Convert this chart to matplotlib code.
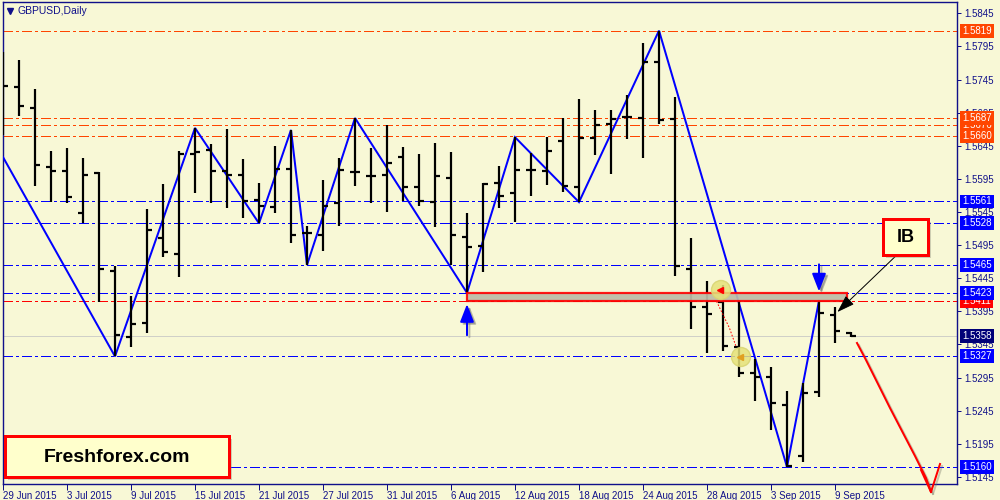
import matplotlib
matplotlib.use("Agg")
import matplotlib.pyplot as plt
from matplotlib.transforms import Affine2D, blended_transform_factory
from matplotlib.patches import Rectangle, Circle
import numpy as np

plt.rcParams['lines.scale_dashes'] = False
plt.rcParams['font.family'] = ['Liberation Sans', 'DejaVu Sans']

# ---------------- data ----------------
opens = [1.5760, 1.5734, 1.5702, 1.5613, 1.5607, 1.5544, 1.5604, 1.5456, 1.5356, 1.5377,
         1.5506, 1.5482, 1.5633, 1.5639, 1.5607, 1.5601, 1.5563, 1.5553, 1.5610, 1.5513,
         1.5510, 1.5559, 1.5605, 1.5599, 1.5601, 1.5628, 1.5583, 1.5560, 1.5596, 1.5507,
         1.5494, 1.5589, 1.5574, 1.5608, 1.5607, 1.5652, 1.5583, 1.5657, 1.5678, 1.5689,
         1.5687, 1.5772, 1.5686, 1.5459, 1.5402, 1.5409, 1.5341, 1.5302, 1.5296, 1.5254,
         1.5177, 1.5273, 1.5390, 1.5362]
highs = [1.5787, 1.5775, 1.5731, 1.5637, 1.5642, 1.5627, 1.5605, 1.5464, 1.5418, 1.5550,
         1.5587, 1.5637, 1.5672, 1.5648, 1.5670, 1.5625, 1.5589, 1.5645, 1.5669, 1.5524,
         1.5593, 1.5627, 1.5687, 1.5642, 1.5676, 1.5643, 1.5633, 1.5649, 1.5636, 1.5544,
         1.5589, 1.5614, 1.5658, 1.5634, 1.5658, 1.5687, 1.5716, 1.5699, 1.5699, 1.5722,
         1.5800, 1.5819, 1.5719, 1.5506, 1.5441, 1.5435, 1.5412, 1.5323, 1.5311, 1.5275,
         1.5287, 1.5411, 1.5402, 1.5364]
lows = [1.5661, 1.5690, 1.5584, 1.5560, 1.5559, 1.5528, 1.5409, 1.5327, 1.5341, 1.5362,
        1.5477, 1.5447, 1.5574, 1.5559, 1.5551, 1.5536, 1.5528, 1.5544, 1.5498, 1.5465,
        1.5486, 1.5524, 1.5584, 1.5559, 1.5545, 1.5562, 1.5554, 1.5522, 1.5465, 1.5423,
        1.5454, 1.5551, 1.5530, 1.5569, 1.5586, 1.5575, 1.5560, 1.5631, 1.5602, 1.5655,
        1.5627, 1.5678, 1.5448, 1.5368, 1.5332, 1.5335, 1.5296, 1.5260, 1.5216, 1.5160,
        1.5168, 1.5266, 1.5347, 1.5356]
closes = [1.5735, 1.5705, 1.5616, 1.5607, 1.5568, 1.5601, 1.5459, 1.5359, 1.5376, 1.5518,
          1.5485, 1.5633, 1.5636, 1.5607, 1.5601, 1.5562, 1.5554, 1.5610, 1.5510, 1.5513,
          1.5554, 1.5608, 1.5605, 1.5599, 1.5619, 1.5583, 1.5562, 1.5599, 1.5510, 1.5492,
          1.5587, 1.5569, 1.5608, 1.5608, 1.5637, 1.5584, 1.5657, 1.5676, 1.5686, 1.5689,
          1.5772, 1.5684, 1.5464, 1.5402, 1.5391, 1.5343, 1.5302, 1.5296, 1.5257, 1.5162,
          1.5272, 1.5393, 1.5365, 1.5358]

zigzag_idx = [0, 7, 12, 16, 18, 19, 22, 29, 32, 36, 41, 49, 51]
zigzag_px = [1.5628, 1.5327, 1.5672, 1.5528, 1.5669, 1.5465, 1.5687, 1.5423,
             1.5658, 1.5560, 1.5819, 1.5160, 1.5411]

orange_levels = [1.5819, 1.5687, 1.5676, 1.5660]
blue_levels = [1.5561, 1.5528, 1.5465, 1.5423, 1.5327, 1.5160]
red_levels = [1.5411]
bid_price = 1.5358

xtick_idx = [0, 4, 8, 12, 16, 20, 24, 28, 32, 36, 40, 44, 48, 52]
xtick_labels = ["29 Jun 2015", "3 Jul 2015", "9 Jul 2015", "15 Jul 2015", "21 Jul 2015",
                "27 Jul 2015", "31 Jul 2015", "6 Aug 2015", "12 Aug 2015", "18 Aug 2015",
                "24 Aug 2015", "28 Aug 2015", "3 Sep 2015", "9 Sep 2015"]
ytick_vals = [1.5845, 1.5795, 1.5745, 1.5695, 1.5645, 1.5595, 1.5545, 1.5495, 1.5445,
              1.5395, 1.5345, 1.5295, 1.5245, 1.5195, 1.5145]

# ---------------- style ----------------
W, H = 1000, 500
BG = '#F8F8D6'
NAVY = '#10108A'
ORANGE = '#FF4500'
BLUE = '#0000FF'
RED = '#FF0000'
PX = 0.72  # one pixel in points

fig = plt.figure(figsize=(W / 100, H / 100), dpi=100, facecolor=BG)
ax = fig.add_axes([3 / W, 1 - 484 / H, 954 / W, 482 / H], facecolor=BG)
P = Affine2D().scale(1 / W, -1 / H).translate(0, 1) + fig.transFigure  # pixel coords

ax.set_xlim(0, 59.625)
ax.set_ylim(1.51343, 1.58622)

for s in ax.spines.values():
    s.set_color(NAVY)
    s.set_linewidth(1.4 * PX)

# level lines
dash = (0, (7, 2.2, 1.6, 2.2))
for lv in orange_levels:
    ax.axhline(lv, color=ORANGE, lw=PX, ls=dash, zorder=1, antialiased=False)
for lv in blue_levels:
    ax.axhline(lv, color=BLUE, lw=PX, ls=dash, zorder=1, antialiased=False)
for lv in red_levels:
    ax.axhline(lv, color=RED, lw=PX, ls=dash, zorder=1, antialiased=False)
ax.axhline(bid_price, color='#D0D0C8', lw=PX, zorder=1, antialiased=False)

# zigzag
ax.plot(zigzag_idx, zigzag_px, color=BLUE, lw=2 * PX, zorder=3, solid_joinstyle='miter')

# OHLC bars
x = np.arange(len(opens))
ax.vlines(x, lows, highs, color='black', lw=2.2 * PX, zorder=4)
ax.hlines(opens, x - 0.32, x, color='black', lw=2.2 * PX, zorder=4)
ax.hlines(closes, x, x + 0.32, color='black', lw=2.2 * PX, zorder=4)

# ticks
ax.yaxis.tick_right()
ax.set_yticks(ytick_vals)
ax.set_yticklabels([f"{v:.4f}" for v in ytick_vals])
ax.tick_params(axis='y', direction='out', length=3, width=PX, color=NAVY,
               labelcolor=NAVY, labelsize=7, pad=2)
ax.set_xticks(xtick_idx)
ax.set_xticklabels(xtick_labels, ha='left')
ax.tick_params(axis='x', direction='out', length=4, width=PX, color=NAVY,
               labelcolor=NAVY, labelsize=7, pad=1)

# price label boxes on the right
yb = blended_transform_factory(ax.transAxes, ax.transData)
def price_box(v, col):
    ax.text(1.0055, v, f"{v:.4f}", transform=yb, ha='left', va='center', color='white',
            fontsize=7, clip_on=False, zorder=6,
            bbox=dict(boxstyle='square,pad=0.2', fc=col, ec='none'))

price_box(orange_levels[2], ORANGE)
price_box(orange_levels[0], ORANGE)
price_box(orange_levels[1], ORANGE)
price_box(orange_levels[3], ORANGE)
for lv in red_levels:
    price_box(lv, RED)
for lv in blue_levels:
    price_box(lv, BLUE)
price_box(bid_price, '#000078')

# title
fig.text(18 / W, 1 - 11 / H, "GBPUSD,Daily", color=NAVY, fontsize=7.5, va='center', ha='left')
fig.lines.append(plt.Line2D([10], [11], transform=P, marker='v', ms=5, color=NAVY, ls='none'))

# red zone rectangle (with shadow)
ax.add_patch(Rectangle((28.99 + 0.12, 1.5411 - 0.00022), 52.72 - 28.99, 0.0012,
                       fc='#707060', ec='none', alpha=0.25, zorder=4.5))
ax.add_patch(Rectangle((28.99, 1.5411), 52.72 - 28.99, 0.0012, fc='#BFBFAA', ec=RED,
                       lw=2.2 * PX, alpha=0.9, zorder=5))

# blue arrows
def blue_arrow(xi, y0, y1):
    ap = dict(arrowstyle='-|>,head_length=0.9,head_width=0.35', lw=2 * PX,
              color='#707070', alpha=0.45, shrinkA=0, shrinkB=0, mutation_scale=12)
    ax.annotate("", xy=(xi + 0.15, y1 - 0.0003), xytext=(xi + 0.15, y0 - 0.0003),
                arrowprops=ap, zorder=5)
    ap = dict(ap, color=BLUE, alpha=1)
    ax.annotate("", xy=(xi, y1), xytext=(xi, y0), arrowprops=ap, zorder=6)

blue_arrow(29, 1.5359, 1.5406)
blue_arrow(51, 1.5466, 1.5425)

# yellow circles with dotted red link
ax.plot([44.6, 45.4, 45.8], [1.5410, 1.5370, 1.5343], color=RED, lw=PX, ls=(0, (1.2, 1.2)), zorder=6)
for (cx, cy), mc in [((721, 290), RED), ((741, 357), '#E0A020')]:
    fig.patches.append(Circle((cx, cy), 9.5, transform=P, fc='#E6E27A', ec='#D8D470',
                              alpha=0.85, zorder=7))
    fig.lines.append(plt.Line2D([cx - 1], [cy], transform=P, marker='<', ms=4, color=mc,
                                ls='none', zorder=8))

# Freshforex box
fig.patches.append(Rectangle((8, 439), 224, 41, transform=P, fc='#808070', ec='none',
                             alpha=0.35, zorder=8))
fig.patches.append(Rectangle((5, 436), 224, 41, transform=P, fc='#FFFFCC', ec=RED,
                             lw=3 * PX, zorder=9))
fig.text(117 / W, 1 - 457 / H, "Freshforex.com", fontsize=14, fontweight='bold',
         ha='center', va='center', color='black', zorder=10)

# IB box
fig.patches.append(Rectangle((886, 222), 45, 36, transform=P, fc='#808070', ec='none',
                             alpha=0.35, zorder=8))
fig.patches.append(Rectangle((883, 219), 45, 36, transform=P, fc='#FFFFCC', ec=RED,
                             lw=3 * PX, zorder=9))
fig.text(905.5 / W, 1 - 238 / H, "IB", fontsize=13, fontweight='bold',
         ha='center', va='center', color='black', zorder=10)

# IB pointer arrow
ax.annotate("", xy=(52.15, 1.5394), xytext=(55.9, 1.5481),
            arrowprops=dict(arrowstyle='-|>,head_length=0.9,head_width=0.3', lw=1 * PX,
                            color='black', shrinkA=0, shrinkB=0, mutation_scale=12),
            zorder=7, annotation_clip=False)

# hand-drawn red arrow
curve_x = [857, 866, 877, 890, 903, 915, 926, 931]
curve_y = [343, 360, 382, 408, 433, 456, 478, 492]
for off, col, a in [(2, '#707060', 0.35), (0, RED, 1.0)]:
    fig.lines.append(plt.Line2D(np.array(curve_x) + off, np.array(curve_y) + off, transform=P,
                                color=col, lw=2 * PX, alpha=a, zorder=7))
    fig.lines.append(plt.Line2D(np.array([921, 931, 940]) + off, np.array([470, 492, 464]) + off,
                                transform=P, color=col, lw=2 * PX, alpha=a, zorder=7))

fig.savefig("out.png", dpi=100, facecolor=BG)
